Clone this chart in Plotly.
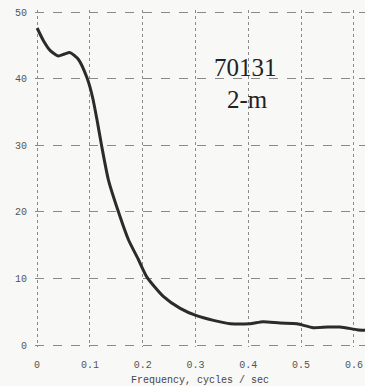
import plotly.graph_objects as go

freq = [0, 0.012, 0.025, 0.040, 0.052, 0.0625, 0.078, 0.095, 0.105, 0.113, 0.122,
        0.135, 0.154, 0.173, 0.192, 0.208, 0.239, 0.271, 0.302, 0.334, 0.366,
        0.403, 0.428, 0.46, 0.492, 0.523, 0.55, 0.574, 0.606, 0.621]
spectrum = [47.6, 45.7, 44.2, 43.4, 43.7, 43.9, 42.9, 40.0, 37.2, 34.0, 30.0,
            24.8, 20.0, 15.8, 12.8, 10.2, 7.3, 5.5, 4.4, 3.7, 3.2,
            3.2, 3.5, 3.3, 3.2, 2.6, 2.7, 2.7, 2.3, 2.2]
x_ticks = [0, 0.1, 0.2, 0.3, 0.4, 0.5, 0.6]
x_tick_labels = ["0", "0.1", "0.2", "0.3", "0.4", "0.5", "0.6"]
y_ticks = [0, 10, 20, 30, 40, 50]

fig = go.Figure()
fig.add_trace(go.Scatter(x=freq, y=spectrum, mode="lines",
                         line=dict(color="#2b2b28", width=3, shape="spline", smoothing=0.6),
                         hoverinfo="skip", showlegend=False))

fig.add_annotation(x=0.394, y=41.6, xref="x", yref="y", text="70131", showarrow=False,
                   font=dict(family="Liberation Serif", size=25, color="#222"))
fig.add_annotation(x=0.398, y=36.8, xref="x", yref="y", text="2-m", showarrow=False,
                   font=dict(family="Liberation Serif", size=25, color="#222"))

grid_color = "#8a8a8a"
fig.update_xaxes(range=[-0.004, 0.621], tickvals=x_ticks, ticktext=x_tick_labels,
                 automargin=False,
                 showgrid=True, gridcolor=grid_color, griddash="dot", gridwidth=1,
                 zeroline=False, showline=False, ticks="", ticklabelstandoff=10,
                 tickfont=dict(family="Liberation Mono", size=10, color="#555"),
                 title=dict(text="Frequency, cycles / sec", standoff=8,
                            font=dict(family="Liberation Mono", size=10, color="#444")))
fig.update_yaxes(range=[-0.3, 50.3], tickvals=y_ticks, automargin=False,
                 showgrid=True, gridcolor=grid_color, griddash="dash", gridwidth=1,
                 zeroline=False, showline=False, ticks="", ticklabelstandoff=7,
                 tickfont=dict(family="Liberation Mono", size=10, color="#555"))

fig.update_layout(width=365, height=386,
                  margin=dict(l=35, r=0, t=10, b=39),
                  paper_bgcolor="#f8f8f6", plot_bgcolor="#f8f8f6")
fig.write_html("out.html", config={"displayModeBar": False},
               post_script="document.body.style.margin='0';document.body.style.overflow='hidden';")
